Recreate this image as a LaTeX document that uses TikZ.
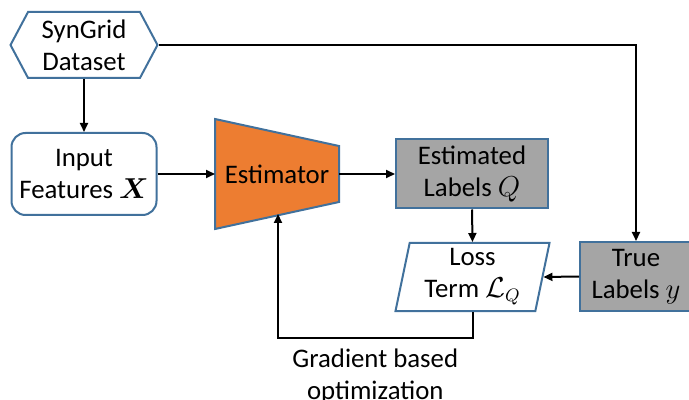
\documentclass[tikz,border=0pt]{standalone}
\usepackage{amsmath}
\usepackage{fontspec}
\setmainfont{Carlito}
\usetikzlibrary{arrows.meta,shapes.geometric,shapes.symbols}
\definecolor{boxblue}{HTML}{41719C}
\definecolor{estorange}{HTML}{ED7D31}
\definecolor{labelgray}{HTML}{A5A5A5}
\tikzstyle{block}=[draw=boxblue,line width=1pt,align=center,inner sep=0pt,font=\fontsize{13.4}{15.9}\selectfont]
\tikzstyle{hexblock}=[block,signal,signal to=west and east,signal pointer angle=124,fill=white,minimum width=73.5pt,minimum height=33pt]
\tikzstyle{roundblock}=[block,rectangle,rounded corners=7pt,fill=white,minimum width=72.5pt,minimum height=41pt]
\tikzstyle{grayblock}=[block,rectangle,fill=labelgray,minimum height=34.5pt]
\tikzstyle{lossblock}=[block,trapezium,trapezium left angle=76,trapezium right angle=104,trapezium stretches body,fill=white,minimum width=77pt,minimum height=34pt]
\tikzstyle{edge}=[draw,line width=1pt,-{Triangle[length=4.5pt,width=4pt]}]
\tikzstyle{weight}=[font=\fontsize{13.4}{15.9}\selectfont,align=center,inner sep=5pt]

\begin{document}
\begin{tikzpicture}[x=0.5pt,y=-0.5pt]
	\useasboundingbox (0,0) rectangle (689,400);
	
	\node[hexblock] (data) at (84,45) {SynGrid\\Dataset};
	\node[roundblock] (inp) at (84,174) {Input\\Features $\boldsymbol{X}$};
	\node[block,draw=none,minimum width=61pt,minimum height=54pt] (est) at (277,174) {};
	\path[fill=estorange,draw=boxblue,line width=1pt] (est.north west) -- ([yshift=-13.5pt]est.north east) -- ([yshift=13.5pt]est.south east) -- (est.south west) -- cycle;
	\node[block,draw=none] at (est.center) {Estimator};
	\node[grayblock,minimum width=76pt] (elab) at (472,174) {Estimated\\Labels $Q$};
	\node[lossblock] (loss) at (472.5,277) {Loss\\Term $\mathcal{L}_Q$};
	\node[grayblock,minimum width=56pt] (tlab) at (636,276.5) {True\\Labels $y$};
	\path (278,214) coordinate (estin);
	
	\path[edge] (data.east) -| (tlab.north);
	\path[edge] (data.south) -- (inp.north);
	\path[edge] (inp.east) -- (est.west);
	\path[edge] (est.east) -- (elab.west);
	\path[edge] (elab.south) -- (loss.north);
	\path[edge] (tlab.west) -- (loss.east);
	\path[edge] (loss.south) -- ++(0,26) coordinate (lc) -- node[weight,below] (grad) {Gradient based\\optimization} (lc -| estin) -- (estin);
\end{tikzpicture}
\end{document}
